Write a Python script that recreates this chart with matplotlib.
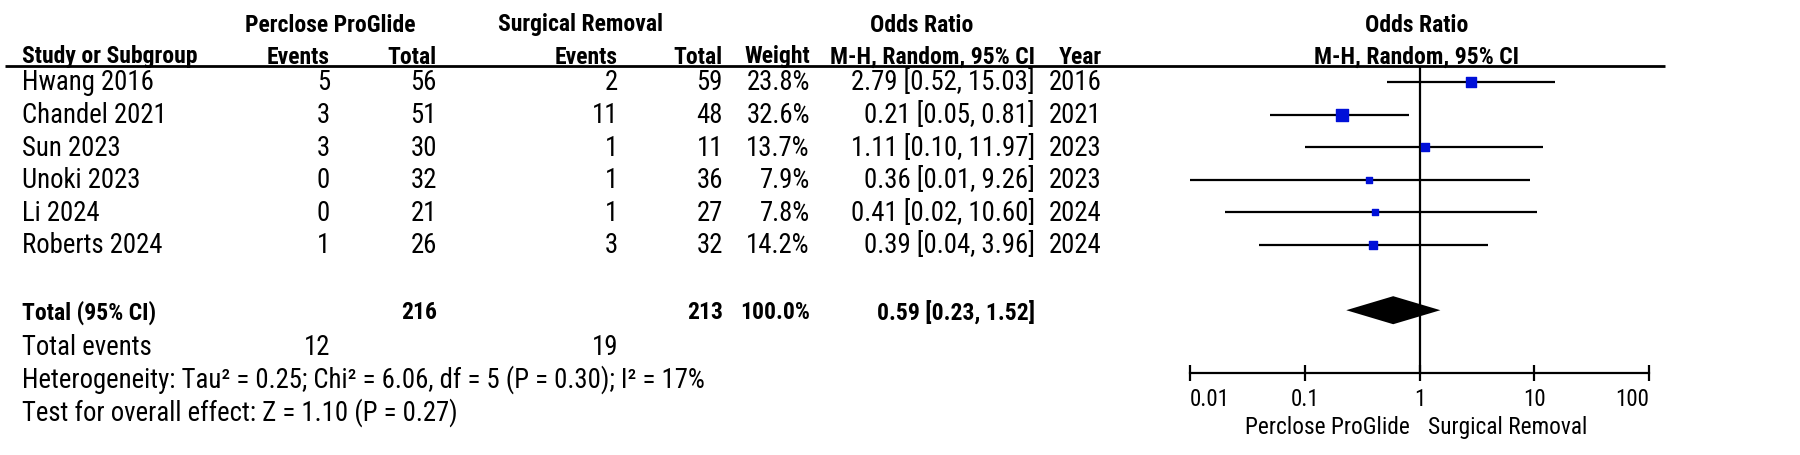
import numpy as np
import matplotlib.pyplot as plt
from matplotlib import font_manager

studies = ['Hwang 2016', 'Chandel 2021', 'Sun 2023', 'Unoki 2023', 'Li 2024', 'Roberts 2024']
pp_events = [5, 3, 3, 0, 0, 1]
pp_total = [56, 51, 30, 32, 21, 26]
sr_events = [2, 11, 1, 1, 1, 3]
sr_total = [59, 48, 11, 36, 27, 32]
weight = [23.8, 32.6, 13.7, 7.9, 7.8, 14.2]
odds = [2.79, 0.21, 1.11, 0.36, 0.41, 0.39]
ci_low = [0.52, 0.05, 0.10, 0.01, 0.02, 0.04]
ci_high = [15.03, 0.81, 11.97, 9.26, 10.60, 3.96]
years = [2016, 2021, 2023, 2023, 2024, 2024]

total_or = 0.59
total_low = 0.23
total_high = 1.52
heterogeneity = 'Heterogeneity: Tau\u00b2 = 0.25; Chi\u00b2 = 6.06, df = 5 (P = 0.30); I\u00b2 = 17%'
overall = 'Test for overall effect: Z = 1.10 (P = 0.27)'
ticks = [0.01, 0.1, 1, 10, 100]
tick_labels = ['0.01', '0.1', '1', '10', '100']

W, H = 1800, 456

# narrow font like Arial Narrow, if there is one
have = {f.name for f in font_manager.fontManager.ttflist}
FONT = 'Liberation Sans'
for cand in ['Liberation Sans Narrow', 'Arial Narrow', 'Roboto Condensed', 'Archivo Narrow',
             'PT Sans Narrow', 'IBM Plex Sans Condensed']:
    if cand in have:
        FONT = cand
        break
plt.rcParams['font.family'] = [FONT, 'Liberation Sans', 'DejaVu Sans']
fs = 19.3
fs_bold = 17

fig = plt.figure(figsize=(W / 100, H / 100), dpi=100)

# text layer in pixel coordinates
tx = fig.add_axes([0, 0, 1, 1])
tx.set_xlim(0, W)
tx.set_ylim(H, 0)
tx.axis('off')

y0, dy = 83, 32.6
top_px, axis_px = 67, 374


def row_y(i):
    return y0 + dy * i


def put(x, y, s, ha='left', bold=False, size=None):
    if size is None:
        size = fs_bold if bold else fs
    tx.text(x, y, s, ha=ha, va='center', fontsize=size,
            fontweight='bold' if bold else 'normal')


# headers
put(330, 25, 'Perclose ProGlide', ha='center', bold=True)
put(581, 25, 'Surgical Removal', ha='center', bold=True)
put(922, 25, 'Odds Ratio', ha='center', bold=True)
put(1417, 25, 'Odds Ratio', ha='center', bold=True)
put(22, 57, 'Study or Subgroup', bold=True)
put(330, 57, 'Events', ha='right', bold=True)
put(437, 57, 'Total', ha='right', bold=True)
put(618, 57, 'Events', ha='right', bold=True)
put(723, 57, 'Total', ha='right', bold=True)
put(810, 57, 'Weight', ha='right', bold=True)
put(1035, 57, 'M-H, Random, 95% CI', ha='right', bold=True)
put(1102, 57, 'Year', ha='right', bold=True)
put(1417, 57, 'M-H, Random, 95% CI', ha='center', bold=True)
tx.plot([5, 1665], [top_px, top_px], color='black', lw=2, solid_capstyle='butt')

for i, name in enumerate(studies):
    y = row_y(i)
    put(22, y, name)
    put(330, y, str(pp_events[i]), ha='right')
    put(437, y, str(pp_total[i]), ha='right')
    put(618, y, str(sr_events[i]), ha='right')
    put(723, y, str(sr_total[i]), ha='right')
    put(810, y, f'{weight[i]:.1f}%', ha='right')
    put(1035, y, f'{odds[i]:.2f} [{ci_low[i]:.2f}, {ci_high[i]:.2f}]', ha='right')
    put(1102, y, str(years[i]), ha='right')

y = row_y(7.05)
put(22, y, 'Total (95% CI)', bold=True)
put(437, y, str(sum(pp_total)), ha='right', bold=True)
put(723, y, str(sum(sr_total)), ha='right', bold=True)
put(810, y, f'{sum(weight):.1f}%', ha='right', bold=True)
put(1035, y, f'{total_or:.2f} [{total_low:.2f}, {total_high:.2f}]', ha='right', bold=True)
y = row_y(8.1)
put(22, y, 'Total events')
put(330, y, str(sum(pp_events)), ha='right')
put(618, y, str(sum(sr_events)), ha='right')
put(22, row_y(9.1), heterogeneity)
put(22, row_y(10.1), overall)

put(1410, 428, 'Perclose ProGlide', ha='right', size=16.8)
put(1428, 428, 'Surgical Removal', ha='left', size=16.8)

# forest plot
x_left, x_right = 1190, 1649
ax = fig.add_axes([x_left / W, (H - axis_px) / H, (x_right - x_left) / W, (axis_px - top_px) / H])
ax.set_xscale('log')
ax.set_xlim(0.01, 100)
ax.set_ylim((axis_px - y0) / dy, (top_px - y0) / dy)
ax.patch.set_alpha(0)
for s in ['top', 'left', 'right']:
    ax.spines[s].set_visible(False)
ax.spines['bottom'].set_linewidth(1.6)
ax.set_yticks([])
ax.set_xticks(ticks)
ax.set_xticklabels(tick_labels)
ax.minorticks_off()
ax.tick_params(axis='x', direction='inout', length=12, width=1.6, labelsize=16.5, pad=4)
labs = ax.get_xticklabels()
labs[0].set_horizontalalignment('left')
labs[-1].set_horizontalalignment('right')

ax.axvline(1, color='black', lw=1.6)
rows = np.arange(len(studies))
ax.hlines(rows, ci_low, ci_high, color='black', lw=1.6)
ax.scatter(odds, rows, marker='s', s=(np.sqrt(weight) * 2.1 * 0.72) ** 2,
           color='#0010d8', edgecolors='#0010d8', zorder=3)

dia_y = 7
dh = 0.43
ax.fill([total_low, total_or, total_high, total_or], [dia_y, dia_y - dh, dia_y, dia_y + dh],
        color='black', lw=0, zorder=3)

fig.savefig('out.png', dpi=100)
